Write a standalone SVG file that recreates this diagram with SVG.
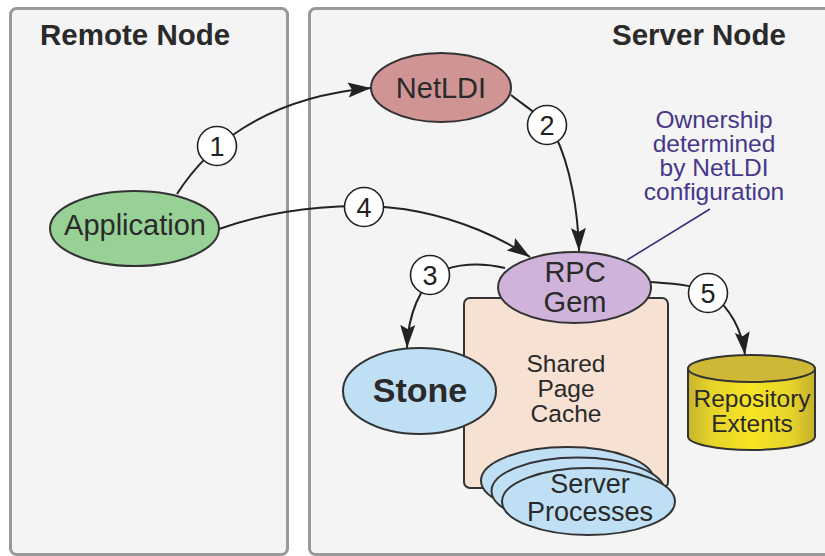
<svg xmlns="http://www.w3.org/2000/svg" width="825" height="556" viewBox="0 0 825 556">
<defs>
<style>
.panel{fill:#f4f4f4;stroke:#999;stroke-width:3}
.title{font-family:"Liberation Sans",Arial,sans-serif;font-weight:bold;font-size:29.5px;fill:#2a2a2a}
.lbl{font-family:"Liberation Sans",Arial,sans-serif;font-size:29px;fill:#2a2a2a;text-anchor:middle}
.sm{font-size:24.5px}
.node{stroke:#333;stroke-width:2}
.conn{fill:none;stroke:#222;stroke-width:2}
.num{fill:#fff;stroke:#222;stroke-width:1.6}
.numt{font-family:"Liberation Sans",Arial,sans-serif;font-size:27px;fill:#222;text-anchor:middle}
.note{font-family:"Liberation Sans",Arial,sans-serif;font-size:24.5px;fill:#45378a;text-anchor:middle}
</style>
<marker id="ah" markerUnits="userSpaceOnUse" markerWidth="26" markerHeight="18" refX="23" refY="7.5" orient="auto">
<path d="M0,0 L23,7.5 L0,15 L4,7.5 z" fill="#222"/>
</marker>
<linearGradient id="cyl" x1="0" y1="0" x2="1" y2="0">
<stop offset="0" stop-color="#c7b42c"/>
<stop offset="0.18" stop-color="#e6d32a"/>
<stop offset="0.5" stop-color="#f7e424"/>
<stop offset="0.82" stop-color="#e6d32a"/>
<stop offset="1" stop-color="#c2af2a"/>
</linearGradient>
</defs>
<rect width="825" height="556" fill="#fff"/>
<g id="remote-node">
<rect class="panel" x="10.5" y="8.5" width="277" height="546" rx="6"/>
<text class="title" x="40" y="45">Remote Node</text>
</g>
<g id="server-node">
<rect class="panel" x="309.5" y="8.5" width="530" height="546" rx="6"/>
<text class="title" x="612" y="45">Server Node</text>
</g>
<g id="connectors">
<path class="conn" marker-end="url(#ah)" d="M177,194 C205,150 260,98 371,88"/>
<path class="conn" marker-end="url(#ah)" d="M511,95 C530,110 545,118 555,135 C570,165 578,210 579,251"/>
<path class="conn" marker-end="url(#ah)" d="M505,268 C480,262 455,264 440,272 C420,285 408,315 407,348"/>
<path class="conn" marker-end="url(#ah)" d="M219,229 C280,207 360,200 420,212 C460,220 500,237 530,257"/>
<path class="conn" marker-end="url(#ah)" d="M651,282 C680,284 700,286 712,295 C730,308 742,330 745,355"/>
<line x1="627" y1="260" x2="710" y2="209" stroke="#3c2f7c" stroke-width="1.6"/>
<g id="label-1"><circle class="num" cx="217" cy="146" r="19.5"/><text class="numt" x="217" y="155.5">1</text></g>
<g id="label-2"><circle class="num" cx="547" cy="125" r="19.5"/><text class="numt" x="547" y="134.5">2</text></g>
<g id="label-3"><circle class="num" cx="430" cy="275" r="19.5"/><text class="numt" x="430" y="284.5">3</text></g>
<g id="label-4"><circle class="num" cx="364" cy="207" r="19.5"/><text class="numt" x="364" y="216.5">4</text></g>
<g id="label-5"><circle class="num" cx="708" cy="293" r="19.5"/><text class="numt" x="708" y="302.5">5</text></g>
</g>
<g id="note">
<text class="note"><tspan x="714" y="128">Ownership</tspan><tspan x="714" y="152">determined</tspan><tspan x="714" y="176">by NetLDI</tspan><tspan x="714" y="200">configuration</tspan></text>
</g>
<g id="application">
<ellipse class="node" cx="134.5" cy="228.5" rx="84.5" ry="37.5" fill="#98d196"/>
<text class="lbl" x="135" y="235">Application</text>
</g>
<g id="netldi">
<ellipse class="node" cx="441" cy="87.5" rx="70" ry="34.5" fill="#d09494"/>
<text class="lbl" x="441" y="98">NetLDI</text>
</g>
<g id="shared-page-cache">
<rect class="node" x="464" y="298" width="204" height="190" rx="6" fill="#f7e1d3"/>
<text class="lbl sm" x="566" y="372">Shared</text>
<text class="lbl sm" x="566" y="397">Page</text>
<text class="lbl sm" x="566" y="422">Cache</text>
</g>
<g id="server-processes">
<ellipse class="node" cx="567.5" cy="480.5" rx="86.5" ry="33.5" fill="#bfdff5"/>
<ellipse class="node" cx="578" cy="491" rx="86.5" ry="33.5" fill="#bfdff5"/>
<ellipse class="node" cx="588.5" cy="501.5" rx="86.5" ry="33.5" fill="#bfdff5"/>
<text class="lbl" x="590" y="493" style="font-size:27px">Server</text>
<text class="lbl" x="590" y="521" style="font-size:27px">Processes</text>
</g>
<g id="stone">
<ellipse class="node" cx="419.5" cy="391" rx="76.5" ry="43" fill="#bfdff5"/>
<text class="lbl" x="420" y="402" style="font-weight:bold;font-size:34px">Stone</text>
</g>
<g id="rpc-gem">
<ellipse class="node" cx="574.5" cy="287.5" rx="76.5" ry="35.5" fill="#d0b3da"/>
<text class="lbl" x="575" y="282">RPC</text>
<text class="lbl" x="575" y="312">Gem</text>
</g>
<g id="repository-extents">
<path class="node" d="M688,368.5 L688,436.5 A63.5,13.5 0 0 0 815,436.5 L815,368.5 Z" fill="url(#cyl)"/>
<ellipse class="node" cx="751.5" cy="368.5" rx="63.5" ry="13.5" fill="#cdb935"/>
<text class="lbl sm" x="752" y="407">Repository</text>
<text class="lbl sm" x="752" y="432">Extents</text>
</g>
</svg>
